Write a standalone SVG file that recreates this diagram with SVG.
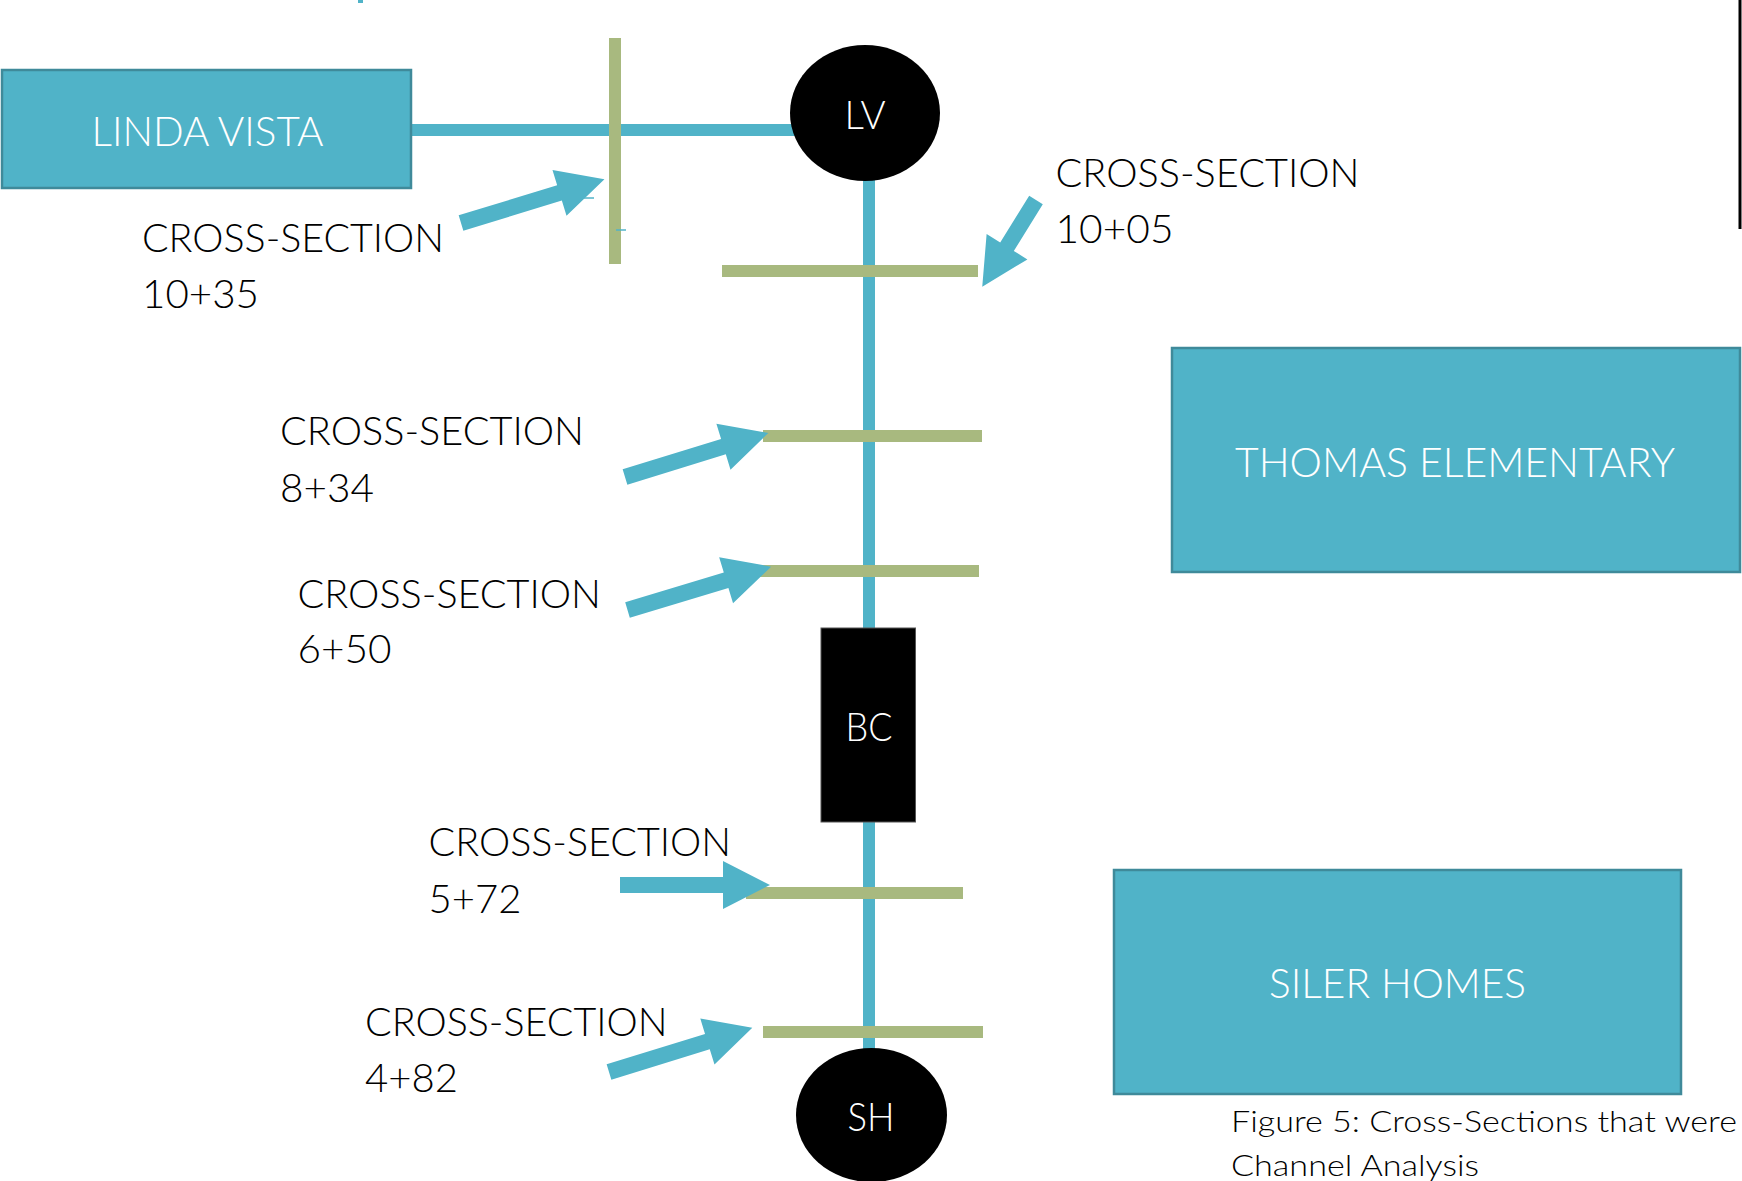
<svg xmlns="http://www.w3.org/2000/svg" xmlns:xlink="http://www.w3.org/1999/xlink" width="1742" height="1181" viewBox="0 0 1742 1181">
  <style>
    .site { fill: #50B3C8; stroke: #3F8A9A; stroke-width: 2.5; }
    .site-label { font-family: "Lato", "Liberation Sans", sans-serif; font-weight: 300; font-size: 41px; fill: #FFFFFF; }
    .node-dark { fill: #000000; }
    .node-label { font-family: "Lato", "Liberation Sans", sans-serif; font-weight: 300; font-size: 40px; fill: #FFFFFF; text-anchor: middle; }
    .xs-bar { fill: #A8B97F; }
    .xs-label { font-family: "Lato", "Liberation Sans", sans-serif; font-weight: 300; font-size: 39px; fill: #000000; }
    .channel { stroke: #50B3C8; stroke-width: 12; fill: none; }
    .pointer { fill: #50B3C8; }
    .tick { stroke: #50B3C8; stroke-width: 1.5; }
    .caption { font-family: "Lato", "Liberation Sans", sans-serif; font-weight: 300; font-size: 29px; fill: #000000; }
  </style>
  <defs>
    <!-- block arrow, tail at origin, pointing along +x -->
    <path id="pointer150" d="M0,-8 H103 V-24 L150,0 L103,24 V8 H0 Z"/>
    <path id="pointer102" d="M0,-8 H55 V-24 L102,0 L55,24 V8 H0 Z"/>
  </defs>

  <rect width="1742" height="1181" fill="#FFFFFF"/>

  <!-- page edge remnants -->
  <rect x="358" y="0" width="5" height="3" fill="#50B3C8"/>
  <line x1="1740" y1="0" x2="1740" y2="229" stroke="#000000" stroke-width="3"/>

  <!-- channel lines -->
  <g id="connectors">
    <line class="channel" x1="869" y1="113" x2="869" y2="1115"/>
    <line class="channel" x1="411" y1="130" x2="795" y2="130"/>
  </g>

  <!-- cross-section bars -->
  <g id="xs-1035">
    <rect class="xs-bar" x="609" y="38" width="12" height="226"/>
    <line class="tick" x1="584" y1="198" x2="594" y2="198"/>
    <line class="tick" x1="616" y1="230" x2="626" y2="230"/>
    <text class="xs-label" x="142" y="252" textLength="302" lengthAdjust="spacingAndGlyphs">CROSS-SECTION</text>
    <text class="xs-label" x="142" y="308" textLength="117" lengthAdjust="spacingAndGlyphs">10+35</text>
  </g>
  <g id="xs-1005">
    <rect class="xs-bar" x="722" y="265" width="256" height="12"/>
    <text class="xs-label" x="1055.5" y="187" textLength="304" lengthAdjust="spacingAndGlyphs">CROSS-SECTION</text>
    <text class="xs-label" x="1055.5" y="243" textLength="118" lengthAdjust="spacingAndGlyphs">10+05</text>
  </g>
  <g id="xs-834">
    <rect class="xs-bar" x="763" y="430" width="219" height="12"/>
    <text class="xs-label" x="280" y="445" textLength="304" lengthAdjust="spacingAndGlyphs">CROSS-SECTION</text>
    <text class="xs-label" x="280" y="502" textLength="94" lengthAdjust="spacingAndGlyphs">8+34</text>
  </g>
  <g id="xs-650">
    <rect class="xs-bar" x="760" y="565" width="219" height="12"/>
    <text class="xs-label" x="297.5" y="608" textLength="303.5" lengthAdjust="spacingAndGlyphs">CROSS-SECTION</text>
    <text class="xs-label" x="297.5" y="663" textLength="94" lengthAdjust="spacingAndGlyphs">6+50</text>
  </g>
  <g id="xs-572">
    <rect class="xs-bar" x="746" y="887" width="217" height="12"/>
    <text class="xs-label" x="428.5" y="856" textLength="302.5" lengthAdjust="spacingAndGlyphs">CROSS-SECTION</text>
    <text class="xs-label" x="428.5" y="913" textLength="93" lengthAdjust="spacingAndGlyphs">5+72</text>
  </g>
  <g id="xs-482">
    <rect class="xs-bar" x="763" y="1026" width="220" height="12"/>
    <text class="xs-label" x="365" y="1036" textLength="302.5" lengthAdjust="spacingAndGlyphs">CROSS-SECTION</text>
    <text class="xs-label" x="365" y="1092" textLength="93" lengthAdjust="spacingAndGlyphs">4+82</text>
  </g>

  <!-- label pointers -->
  <g id="pointers">
    <use href="#pointer150" xlink:href="#pointer150" class="pointer" transform="translate(461,223) rotate(-17)"/>
    <use href="#pointer102" xlink:href="#pointer102" class="pointer" transform="translate(1036,200) rotate(121.8)"/>
    <use href="#pointer150" xlink:href="#pointer150" class="pointer" transform="translate(625,477) rotate(-17.1)"/>
    <use href="#pointer150" xlink:href="#pointer150" class="pointer" transform="translate(627.5,610) rotate(-16.8)"/>
    <use href="#pointer150" xlink:href="#pointer150" class="pointer" transform="translate(620,885)"/>
    <use href="#pointer150" xlink:href="#pointer150" class="pointer" transform="translate(609,1072) rotate(-17.2)"/>
  </g>

  <!-- sites -->
  <g id="linda-vista">
    <rect class="site" x="2" y="70" width="409" height="118"/>
    <text class="site-label" x="91.5" y="146" textLength="232" lengthAdjust="spacingAndGlyphs">LINDA VISTA</text>
  </g>
  <g id="thomas-elementary">
    <rect class="site" x="1172" y="348" width="568" height="224"/>
    <text class="site-label" x="1235" y="477" textLength="440" lengthAdjust="spacingAndGlyphs">THOMAS ELEMENTARY</text>
  </g>
  <g id="siler-homes">
    <rect class="site" x="1114" y="870" width="567" height="224"/>
    <text class="site-label" x="1269" y="998" textLength="257" lengthAdjust="spacingAndGlyphs">SILER HOMES</text>
  </g>

  <!-- channel nodes -->
  <g id="node-lv">
    <ellipse class="node-dark" cx="865" cy="113" rx="75" ry="68"/>
    <text class="node-label" x="865" y="129" textLength="41" lengthAdjust="spacingAndGlyphs">LV</text>
  </g>
  <g id="node-bc">
    <rect class="node-dark" x="821" y="628" width="94.5" height="194" stroke="#555555" stroke-width="1"/>
    <text class="node-label" x="869" y="741" textLength="47" lengthAdjust="spacingAndGlyphs">BC</text>
  </g>
  <g id="node-sh">
    <ellipse class="node-dark" cx="871.5" cy="1115" rx="75.5" ry="67"/>
    <text class="node-label" x="871" y="1131" textLength="47" lengthAdjust="spacingAndGlyphs">SH</text>
  </g>

  <!-- caption -->
  <g id="caption">
    <text class="caption" x="1231" y="1132" textLength="506" lengthAdjust="spacingAndGlyphs">Figure 5: Cross-Sections that were</text>
    <text class="caption" x="1231" y="1176" textLength="248" lengthAdjust="spacingAndGlyphs">Channel Analysis</text>
  </g>
</svg>
